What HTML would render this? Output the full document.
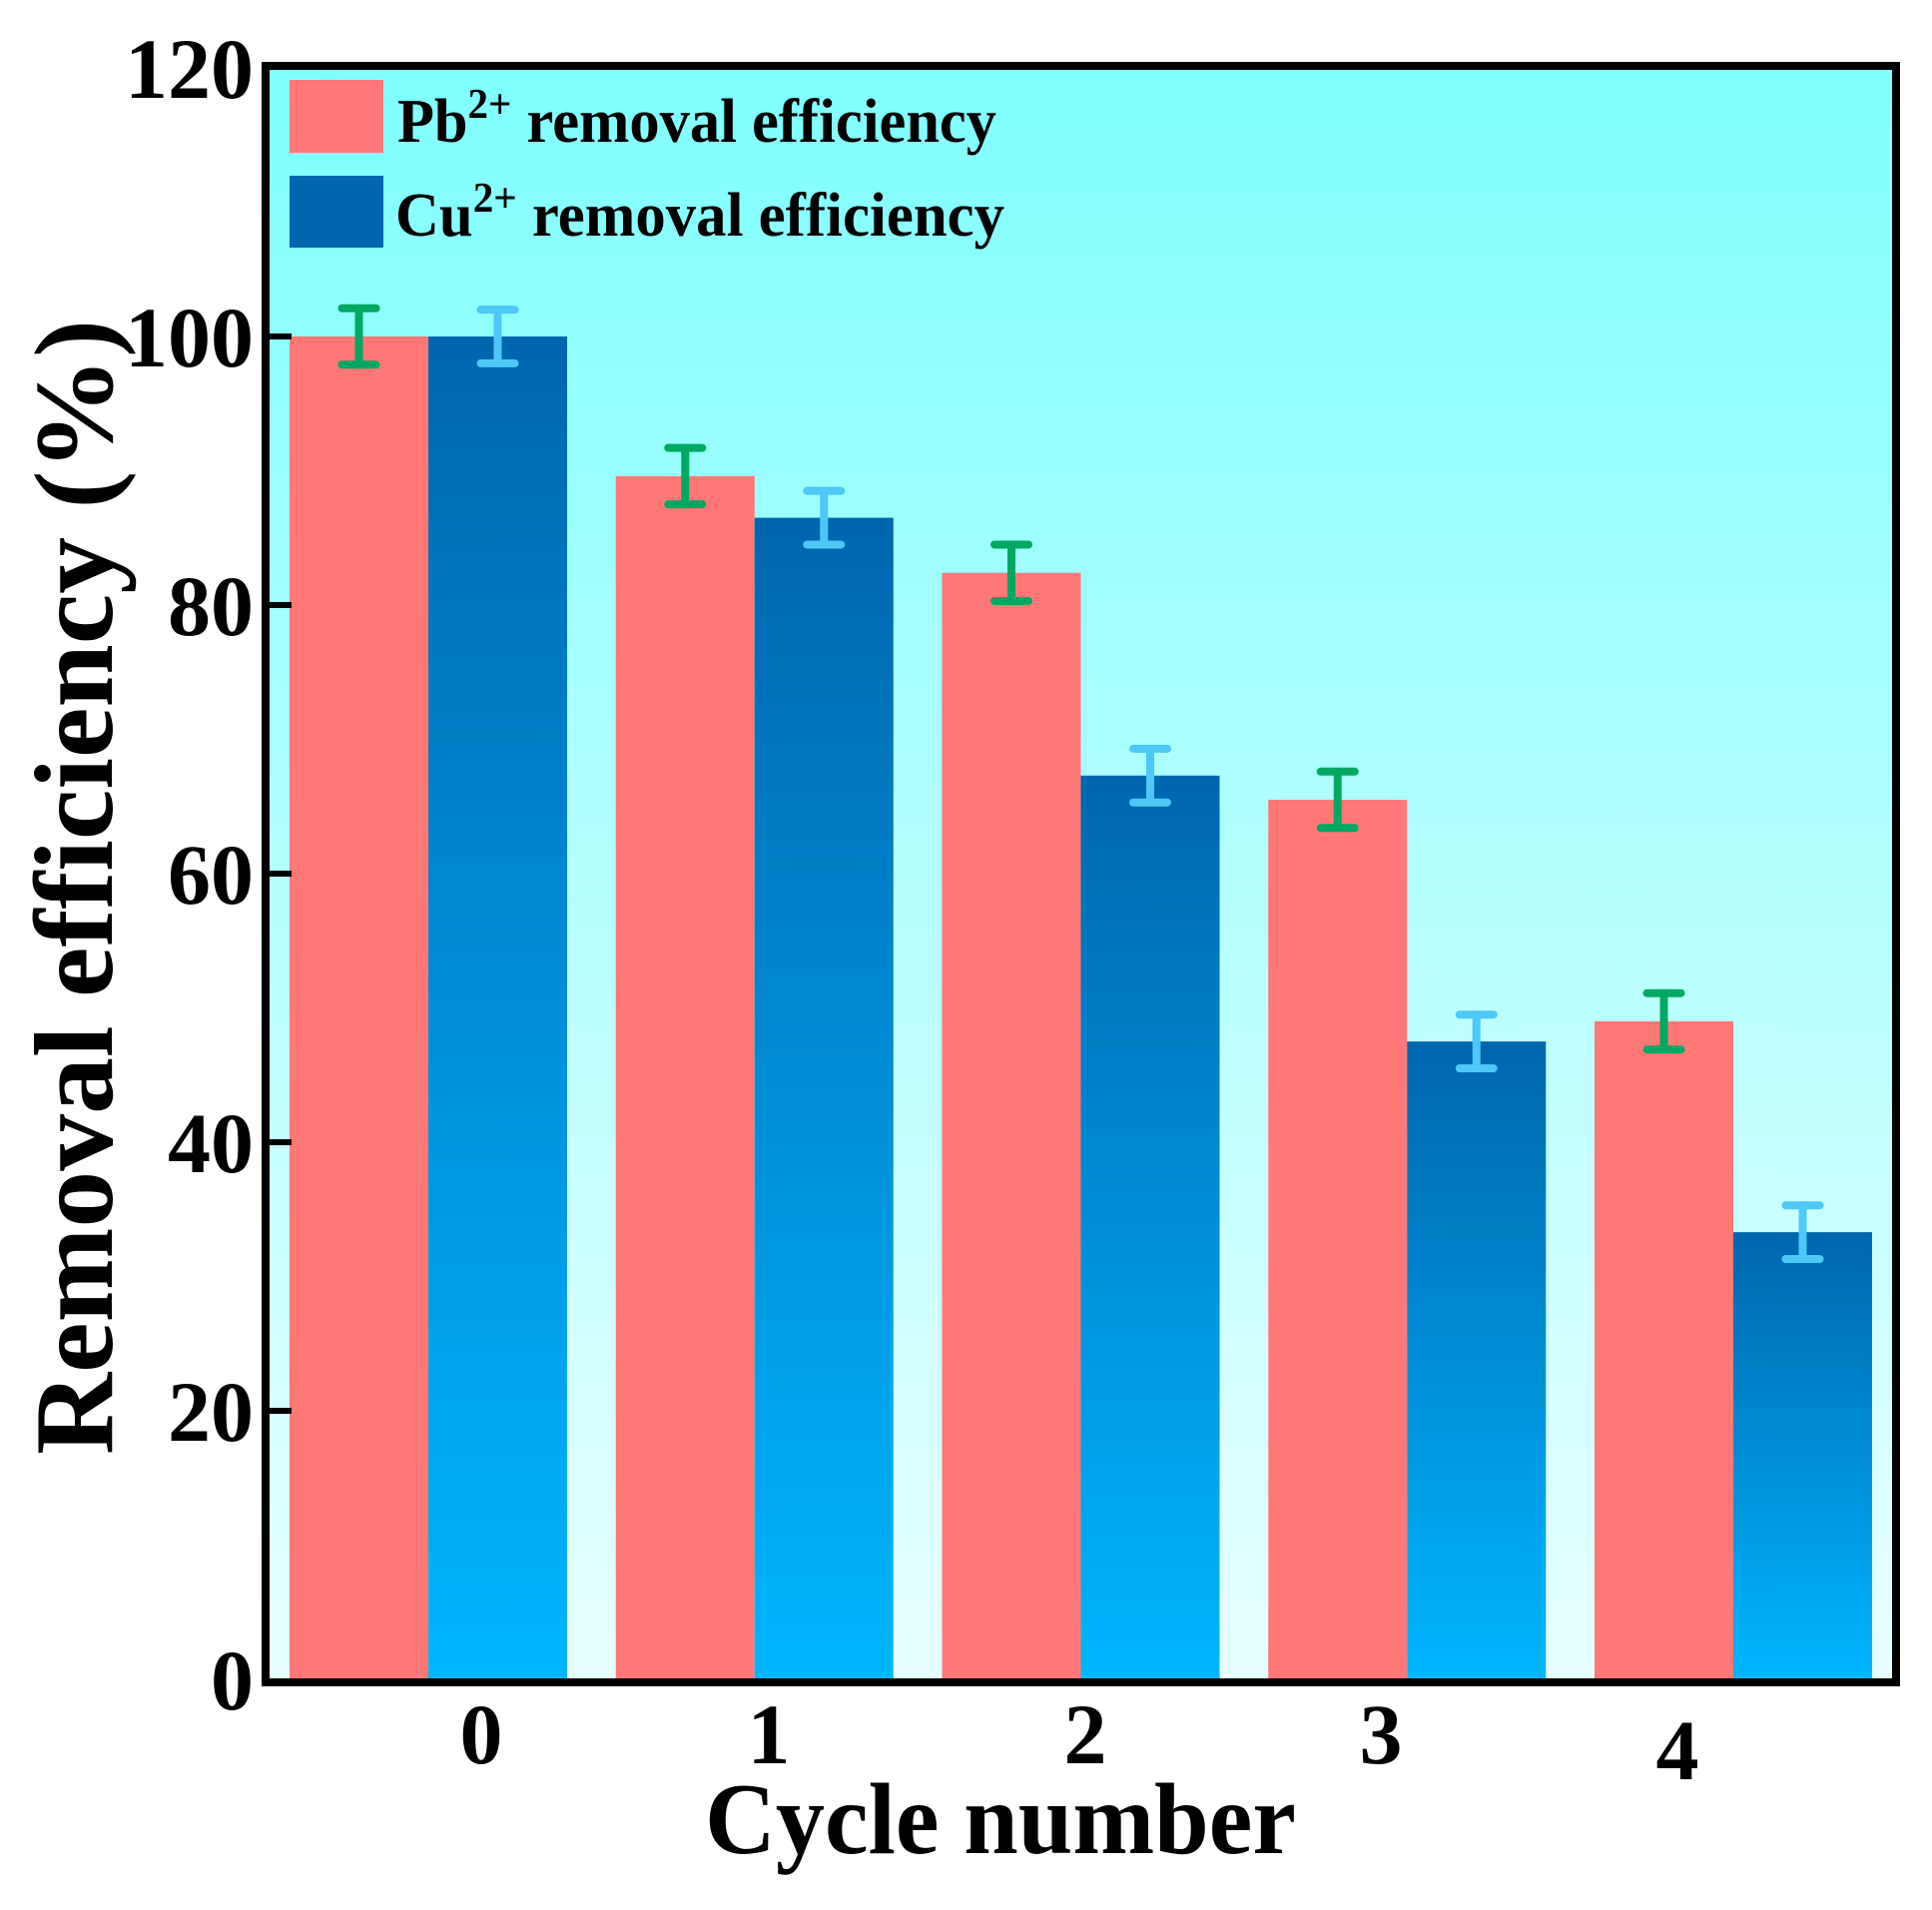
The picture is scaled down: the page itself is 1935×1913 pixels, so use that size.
<!DOCTYPE html>
<html><head><meta charset="utf-8"><style>
html,body{margin:0;padding:0;background:#fff;}
svg{display:block;}
text{font-family:"Liberation Serif","Times New Roman",serif;font-weight:bold;fill:#000;}
</style></head>
<body>
<svg id="chart" width="1935" height="1913" viewBox="0 0 1935 1913" xmlns="http://www.w3.org/2000/svg">
<defs>
<linearGradient id="bgGrad" x1="0" y1="0" x2="0" y2="1">
<stop offset="0" stop-color="#7ffffe"/><stop offset="1" stop-color="#e8ffff"/>
</linearGradient>
<linearGradient id="blueGrad" x1="0" y1="0" x2="0" y2="1">
<stop offset="0" stop-color="#0066ae"/><stop offset="1" stop-color="#00b6ff"/>
</linearGradient>
</defs>
<rect x="266" y="66" width="1633" height="1619" fill="url(#bgGrad)"/>
<g id="bars"></g>
<g id="errs"></g>
<rect x="266" y="66" width="1633" height="1619" fill="none" stroke="#000" stroke-width="8"/>
<g id="yticks"></g>
<g id="xticks"></g>
<g>
<rect x="290" y="80" width="94" height="73" fill="#ff7777"/>
<text x="398" y="142" font-size="62" textLength="600" lengthAdjust="spacingAndGlyphs">Pb<tspan dy="-24" font-size="42">2+</tspan><tspan dy="24"> removal efficiency</tspan></text>
<rect x="290" y="176" width="94" height="72" fill="#0066ae"/>
<text x="396" y="236" font-size="62" textLength="610" lengthAdjust="spacingAndGlyphs">Cu<tspan dy="-24" font-size="42">2+</tspan><tspan dy="24"> removal efficiency</tspan></text>
</g>
<text x="706" y="1856" font-size="102" textLength="592" lengthAdjust="spacingAndGlyphs">Cycle number</text>
<text transform="translate(112,1457) rotate(-90)" x="0" y="0" font-size="112" textLength="1137" lengthAdjust="spacingAndGlyphs">Removal efficiency (%)</text>
</svg>
<script>
const categories = ["0","1","2","3","4"];
const pbValues = [100, 89.6, 82.4, 65.5, 49.0];
const cuValues = [100, 86.5, 67.3, 47.5, 33.3];
const pbErrors = [2.1, 2.1, 2.1, 2.1, 2.1];
const cuErrors = [2.0, 2.0, 2.0, 2.0, 2.0];
const yTicks = [0, 20, 40, 60, 80, 100, 120];

const NS = "http://www.w3.org/2000/svg";
const y0 = 1682, yPerUnit = 13.45;
function yScale(v){ return y0 - v*yPerUnit; }
const groupStart = 290, groupStep = 326.75, barW = 139;
function xBar(i, s){ return groupStart + i*groupStep + s*barW; }
const xLabelPos = [482, 770, 1087, 1383, 1680];
function mk(tag, attrs, parent){ const e=document.createElementNS(NS,tag); for(const k in attrs) e.setAttribute(k, attrs[k]); parent.appendChild(e); return e; }
const gB=document.getElementById('bars'), gE=document.getElementById('errs'), gY=document.getElementById('yticks'), gX=document.getElementById('xticks');
function drawErr(cx, v, err, color, name){
  const g = mk('g', {stroke:color,'stroke-width':8,'stroke-linecap':'round',fill:'none'}, gE);
  
  
  const yt=yScale(v+err), yb=yScale(v-err);
  mk('line',{x1:cx,x2:cx,y1:yt,y2:yb},g);
  mk('line',{x1:cx-17,x2:cx+17,y1:yt,y2:yt},g);
  mk('line',{x1:cx-17,x2:cx+17,y1:yb,y2:yb},g);
}
categories.forEach((c,i)=>{
  const r1 = mk('rect',{x:xBar(i,0),y:yScale(pbValues[i]),width:barW,height:y0-yScale(pbValues[i]),fill:'#ff7777'},gB);
  
  
  const r2 = mk('rect',{x:xBar(i,1),y:yScale(cuValues[i]),width:barW,height:y0-yScale(cuValues[i]),fill:'url(#blueGrad)'},gB);
  
  
  drawErr(xBar(i,0)+barW/2, pbValues[i], pbErrors[i], '#00a862', 'error-bar-pb-'+c);
  drawErr(xBar(i,1)+barW/2, cuValues[i], cuErrors[i], '#4ec8f7', 'error-bar-cu-'+c);
  const t = mk('text',{x:xLabelPos[i],y:(i===4?1782:1766),'font-size':86,'text-anchor':'middle'},gX);
  
  
  t.textContent = c;
});
yTicks.forEach(v=>{
  const y=yScale(v);
  if(v>0 && v<120){
    const l = mk('line',{x1:266,x2:292,y1:y,y2:y,stroke:'#000','stroke-width':6},gY);
    
    
  }
  const t = mk('text',{x:254,y:y+30,'font-size':86,'text-anchor':'end'},gY);
  
  
  t.textContent = v;
});
</script>
</body></html>
